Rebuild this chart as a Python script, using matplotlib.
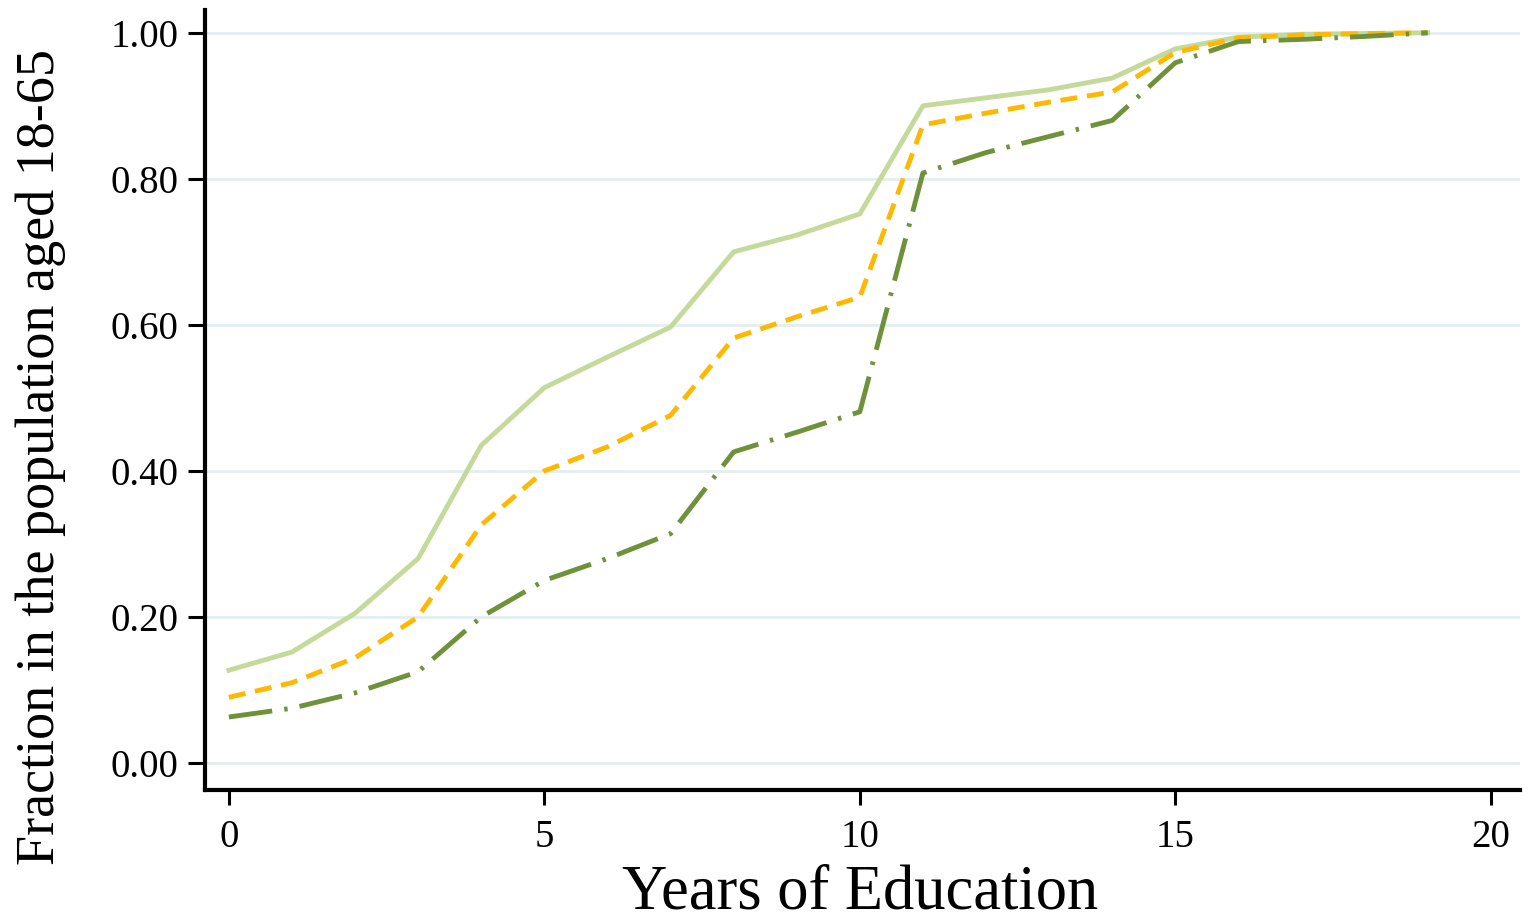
import numpy as np
import matplotlib
matplotlib.use('Agg')
import matplotlib.pyplot as plt

plt.rcParams['font.family'] = ['Liberation Serif', 'DejaVu Serif']

years = list(range(20))
# three cumulative education distributions
light = [0.127, 0.152, 0.205, 0.28, 0.435, 0.514, 0.556, 0.597, 0.70, 0.723,
         0.752, 0.90, 0.911, 0.922, 0.938, 0.978, 0.994, 0.998, 0.999, 1.0]
mid = [0.09, 0.11, 0.144, 0.20, 0.326, 0.40, 0.433, 0.476, 0.582, 0.611,
       0.638, 0.874, 0.89, 0.905, 0.919, 0.973, 0.993, 0.997, 0.999, 1.0]
dark = [0.063, 0.075, 0.096, 0.125, 0.20, 0.25, 0.28, 0.314, 0.426, 0.453,
        0.481, 0.808, 0.836, 0.858, 0.88, 0.959, 0.988, 0.991, 0.995, 1.0]

yticks = [0.0, 0.2, 0.4, 0.6, 0.8, 1.0]
xticks = [0, 5, 10, 15, 20]

fig = plt.figure(figsize=(15.29, 9.24), dpi=100)
ax = fig.add_axes([0.134, 0.145, 0.86, 0.844])

for y in yticks:
    ax.axhline(y, color='#e4eef1', lw=2, zorder=0)

ax.plot(years, light, color='#c5d99b', lw=3.5)
ax.plot(years, mid, color='#ffb800', lw=3.5, ls=(0, (3.5, 2)))
ax.plot(years, dark, color='#6f9139', lw=3.5, ls=(0, (9, 2.5, 0.7, 2.5)))

ax.set_xlim(-0.38, 20.46)
ax.set_ylim(-0.037, 1.031)
ax.set_xticks(xticks)
ax.set_yticks(yticks)
ax.set_yticklabels(['%.2f' % v for v in yticks])
ax.tick_params(axis='both', labelsize=28, width=2.2, direction='out')
ax.tick_params(axis='y', length=12, pad=7)
ax.tick_params(axis='x', length=11, pad=10)
ax.spines['top'].set_visible(False)
ax.spines['right'].set_visible(False)
ax.spines['left'].set_linewidth(3)
ax.spines['bottom'].set_linewidth(3)

ax.set_xlabel('Years of Education', fontsize=45)
ax.xaxis.set_label_coords(0.498, -0.152)
ax.xaxis.label.set_va('baseline')
ax.set_ylabel('Fraction in the population aged 18-65', fontsize=39)
ax.yaxis.set_label_coords(-0.1057, 0.427)

fig.savefig('out.png', dpi=100)
